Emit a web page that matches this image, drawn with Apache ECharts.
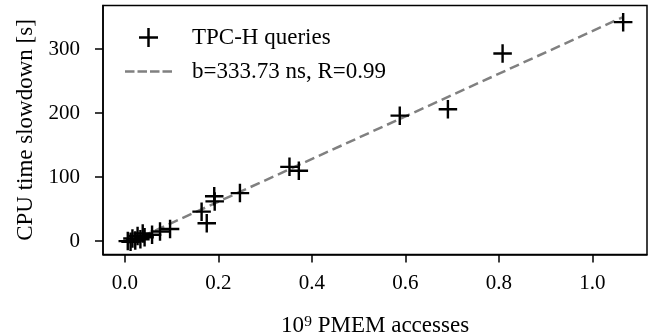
<!DOCTYPE html>
<html>
<head>
<meta charset="utf-8">
<script src="https://cdn.jsdelivr.net/npm/echarts@6/dist/echarts.min.js"></script>
<style>html,body{margin:0;padding:0;background:#fff}#c{width:651px;height:335px}</style>
</head>
<body>
<div id="c"></div>
<script>
// TPC-H queries: PMEM accesses (10^9) vs CPU time slowdown (s)
const pmemAccesses = [1.066, 0.808, 0.691, 0.588, 0.372, 0.352, 0.246, 0.192, 0.191, 0.175, 0.164, 0.0965, 0.075, 0.058, 0.042, 0.038, 0.033, 0.027, 0.022, 0.016, 0.012, 0.006];
const cpuSlowdown  = [342, 293, 206, 196, 110, 116, 75, 62, 70, 28, 46, 19, 15, 10, 6, 12, 3, 8, 1, 4, -1, 0];
// regression line endpoints
const fitX = [0.006, 1.066];
const fitY = [-3, 350];
const xTicks = [0, 0.2, 0.4, 0.6, 0.8, 1.0];
const yTicks = [0, 100, 200, 300];
const seriesNames = ['TPC-H queries', 'b=333.73 ns, R=0.99'];

const FONT = '"Liberation Serif", "DejaVu Serif", serif';
const CROSS = 'path://M0,8.7H8.7V0H11.3V8.7H20V11.3H11.3V20H8.7V11.3H0Z';
const DASH_ICON = 'path://M0,0H9.5V2.5H0Z M12.5,0H22V2.5H12.5Z M25,0H34.5V2.5H25Z M37.5,0H47V2.5H37.5Z';

const chart = echarts.init(document.getElementById('c'), null, {renderer: 'canvas'});
chart.setOption({
  animation: false,
  backgroundColor: '#fff',
  grid: {left: 103, right: 4, top: 5.5, bottom: 80.5, show: true, borderColor: '#000', borderWidth: 1.5,
    containLabel: false, outerBoundsMode: 'none'},
  legend: {
    orient: 'vertical', left: 120, top: 21,
    itemWidth: 47, itemHeight: 19, itemGap: 11,
    textStyle: {fontFamily: FONT, fontSize: 23, color: '#000', padding: [0, 0, 0, 15]},
    data: [
      {name: seriesNames[0], icon: CROSS, itemStyle: {color: '#000', opacity: 1}},
      {name: seriesNames[1], icon: DASH_ICON, itemStyle: {color: '#808080', opacity: 1}}
    ]
  },
  xAxis: {
    type: 'value', min: -0.047, max: 1.117,
    name: '10⁹ PMEM accesses', nameLocation: 'middle', nameGap: 60,
    nameTextStyle: {fontFamily: FONT, fontSize: 23, color: '#000'},
    axisLine: {show: true, onZero: false, lineStyle: {color: '#000', width: 1.5}},
    axisTick: {show: true, length: 8, customValues: xTicks, lineStyle: {color: '#000', width: 1.5}},
    axisLabel: {customValues: xTicks, fontFamily: FONT, fontSize: 21, color: '#000', margin: 18,
      formatter: v => v.toFixed(1)},
    splitLine: {show: false}
  },
  yAxis: {
    type: 'value', min: -20.9, max: 368,
    name: 'CPU time slowdown [s]', nameLocation: 'middle', nameGap: 66,
    nameTextStyle: {fontFamily: FONT, fontSize: 23, color: '#000'},
    axisLine: {show: true, onZero: false, lineStyle: {color: '#000', width: 1.5}},
    axisTick: {show: true, length: 8, customValues: yTicks, lineStyle: {color: '#000', width: 1.5}},
    axisLabel: {customValues: yTicks, fontFamily: FONT, fontSize: 21, color: '#000', margin: 23,
      formatter: v => String(Math.round(v))},
    splitLine: {show: false}
  },
  series: [
    {
      name: seriesNames[0], type: 'scatter',
      symbol: CROSS, symbolSize: 18.5,
      itemStyle: {color: '#000', opacity: 1},
      data: pmemAccesses.map((x, i) => [x, cpuSlowdown[i]]),
      z: 3
    },
    {
      name: seriesNames[1], type: 'line',
      showSymbol: false, symbol: 'none',
      lineStyle: {color: '#808080', width: 2.5, type: [10, 5]},
      itemStyle: {color: '#808080'},
      data: fitX.map((x, i) => [x, fitY[i]]),
      z: 2
    }
  ]
});
</script>
</body>
</html>
